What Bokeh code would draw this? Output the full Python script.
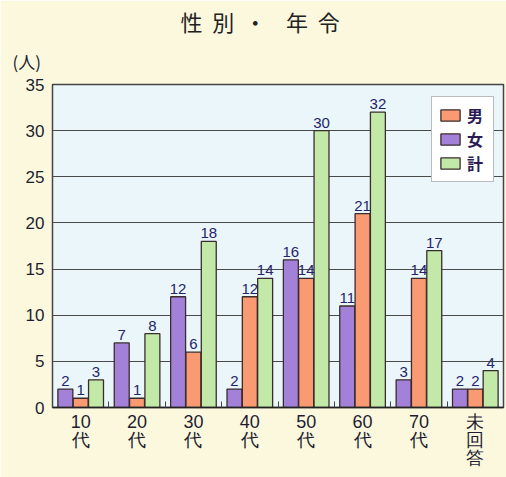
from bokeh.plotting import figure
from bokeh.models import (ColumnDataSource, FixedTicker, LabelSet, Title,
                          Legend, LegendItem)
from bokeh.core.properties import value
from bokeh.transform import dodge
from bokeh.embed import file_html
from bokeh.resources import INLINE

# ---- data ----
categories = ["10代", "20代", "30代", "40代", "50代", "60代", "70代", "未回答"]
tick_labels = ["10\n代", "20\n代", "30\n代", "40\n代", "50\n代", "60\n代", "70\n代", "未\n回\n答"]
male = [1, 1, 6, 12, 14, 21, 14, 2]      # 男
female = [2, 7, 12, 2, 16, 11, 3, 2]     # 女
total = [3, 8, 18, 14, 30, 32, 17, 4]    # 計
y_ticks = [0, 5, 10, 15, 20, 25, 30, 35]
NB = "\u00a0"
title_text = "性" + NB * 2 + "別" + NB * 2 + "・" + NB * 4 + "年" + NB * 2 + "令"
unit_text = "(人)"

NUM_FONT = "Liberation Sans"
CJK_FONT = "Noto Sans CJK JP"
C_MALE = "#f99a72"
C_FEMALE = "#a381d8"
C_TOTAL = "#c3e9a9"
OUTLINE = "#3a2c2c"
LABEL_COLOR = "#24246a"

xc = [i + 0.5 for i in range(len(categories))]
src = ColumnDataSource(dict(x=xc, cat=categories, male=male, female=female, total=total,
                            male_s=[str(v) for v in male],
                            female_s=[str(v) for v in female],
                            total_s=[str(v) for v in total]))

p = figure(width=506, height=477, x_range=(0, len(categories)), y_range=(0, 35),
           output_backend="svg", toolbar_location=None,
           min_border_left=52, min_border_right=3, min_border_top=84, min_border_bottom=70)
p.border_fill_color = "#fcf8de"
p.background_fill_color = "#eaf6fa"
p.outline_line_color = "#444444"
p.outline_line_width = 1.5

bw = 0.265
off = 0.272
series = [("female", -off, C_FEMALE), ("male", 0.0, C_MALE), ("total", off, C_TOTAL)]
rend = {}
for field, o, col in series:
    rend[field] = p.vbar(x=dodge("x", o), top=field, width=bw, bottom=0, source=src,
                         fill_color=col, line_color=OUTLINE, line_width=1.3)
    ls = LabelSet(x=dodge("x", o), y=field, text=field + "_s", source=src,
                  text_align="center", text_baseline="alphabetic", y_offset=3,
                  text_font=value(NUM_FONT), text_font_size=value("15px"),
                  text_color=LABEL_COLOR)
    p.add_layout(ls)

legend = Legend(items=[LegendItem(label="男", renderers=[rend["male"]]),
                       LegendItem(label="女", renderers=[rend["female"]]),
                       LegendItem(label="計", renderers=[rend["total"]])],
                location=(379, 225), margin=0, padding=6, spacing=0,
                label_height=21, glyph_height=14, glyph_width=24, label_standoff=5,
                label_text_font=CJK_FONT, label_text_font_size="16px",
                label_text_font_style="bold", label_text_color="#2b1b55",
                border_line_color="#777777", border_line_width=1.2,
                background_fill_color="white", background_fill_alpha=1)
p.add_layout(legend)

# axes
p.xaxis.ticker = FixedTicker(ticks=xc, minor_ticks=[i for i in range(1, len(categories))])
p.xaxis.major_label_overrides = {x: t for x, t in zip(xc, tick_labels)}
p.xaxis.major_tick_in = 0
p.xaxis.major_tick_out = 0
p.xaxis.minor_tick_in = 6
p.xaxis.minor_tick_out = 0
p.xaxis.minor_tick_line_color = "#444444"
p.xaxis.axis_line_color = "#222222"
p.xaxis.axis_line_width = 1.5
p.xaxis.major_label_standoff = 4
p.xaxis.major_label_text_font = NUM_FONT
p.xaxis.major_label_text_font_size = "18px"
p.xaxis.major_label_text_line_height = 0.9
p.xaxis.major_label_text_color = "#1e1e30"

p.yaxis.ticker = FixedTicker(ticks=y_ticks)
p.yaxis.major_tick_in = 0
p.yaxis.major_tick_out = 0
p.yaxis.minor_tick_line_color = None
p.yaxis.axis_line_color = "#444444"
p.yaxis.major_label_standoff = 8
p.yaxis.major_label_text_font = "Liberation Sans"
p.yaxis.major_label_text_font_size = "17px"
p.yaxis.major_label_text_color = "#1e1e30"

p.xgrid.grid_line_color = None
p.ygrid.ticker = FixedTicker(ticks=[5, 10, 15, 20, 25, 30])
p.ygrid.grid_line_color = "#4a4a4a"
p.ygrid.grid_line_width = 1

p.title.text = title_text
p.title.align = "left"
p.title.offset = 128
p.title.text_font = CJK_FONT
p.title.text_font_size = "22px"
p.title.text_font_style = "normal"
p.title.text_color = "#222222"
p.title.standoff = 5

unit = Title(text=unit_text, align="left", offset=-40, text_font=CJK_FONT,
             text_font_size="17px", text_font_style="normal", text_color="#1e1e30",
             vertical_align="top", standoff=18)
p.add_layout(unit, "above")

open("out.html", "w").write(file_html(p, INLINE))
